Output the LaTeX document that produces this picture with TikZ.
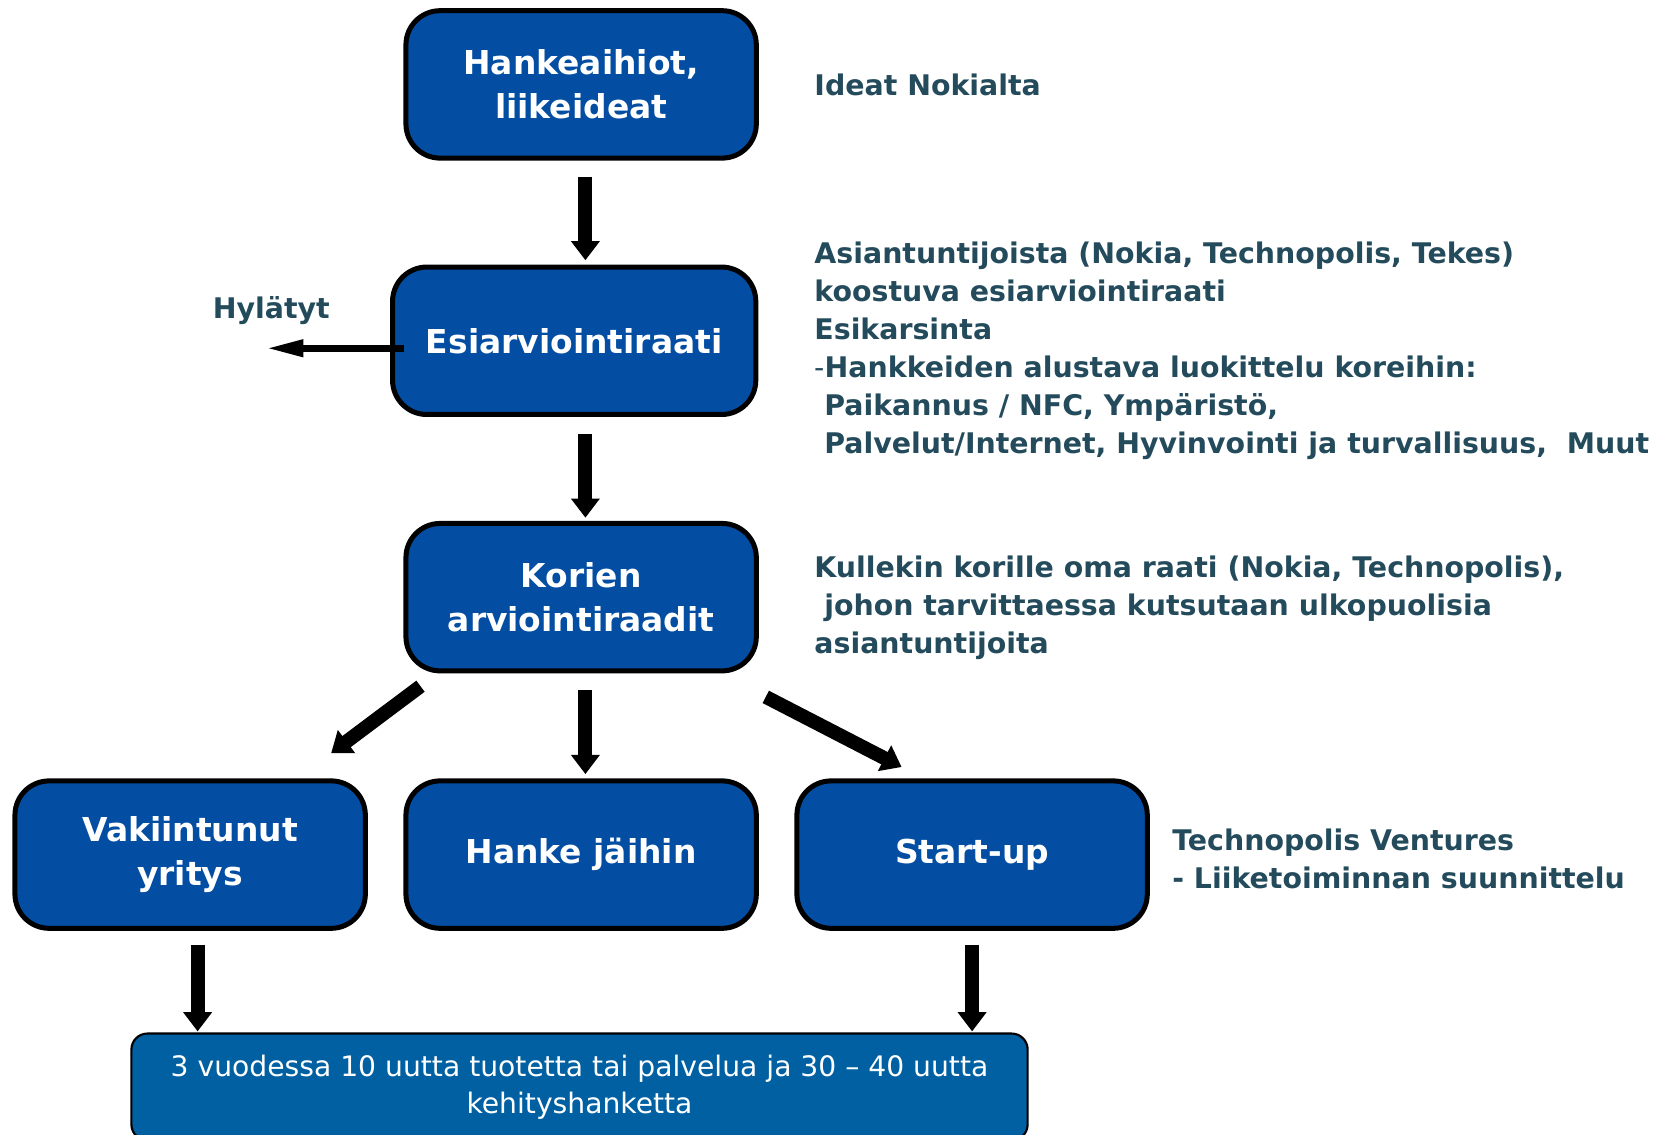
\documentclass[tikz,border=0pt]{standalone}
\usepackage{fontspec}
\setmainfont{DejaVu Sans}
\usetikzlibrary{arrows.meta}
\definecolor{boxblue}{HTML}{034EA2}
\definecolor{resblue}{HTML}{0060A2}
\definecolor{notecol}{HTML}{244B5C}
\begin{document}
\begin{tikzpicture}[x=0.5pt,y=-0.5pt,
  stage/.style={draw=black,line width=2.35pt,fill=boxblue,rounded corners=16pt,
    minimum width=164pt,minimum height=69pt,align=center,text=white,
    font=\fontsize{15.4}{20.5}\selectfont\bfseries},
  note/.style={anchor=north west,inner sep=0pt,align=left,text=notecol,
    font=\fontsize{13.3}{17.8}\selectfont\bfseries},
  bigarrow/.style={line width=6.5pt,-{Triangle[width=13pt,length=9pt]}},
  thinarrow/.style={line width=3.2pt,-{Triangle[width=7.5pt,length=17.5pt]}}]
\useasboundingbox (0,0) rectangle (1568,1061.6);
% boxes
\node[stage] (ideas) at (544,79) {Hankeaihiot,\\liikeideat};
\node[stage,minimum width=170pt] (pre) at (537.5,319) {Esiarviointiraati};
\node[stage] (baskets) at (544,559) {Korien\\arviointiraadit};
\node[stage] (firm) at (178,800) {Vakiintunut\\yritys};
\node[stage] (frozen) at (544,800) {Hanke jäihin};
\node[stage] (startup) at (910,800) {Start-up};
\node[draw=black,line width=1pt,fill=resblue,rounded corners=7.5pt,
  minimum width=419.5pt,minimum height=50pt,align=center,text=white,
  font=\fontsize{13.2}{17.5}\selectfont] (result) at (542.5,1017.5)
  {3 vuodessa 10 uutta tuotetta tai palvelua ja 30 – 40 uutta\\kehityshanketta};
% notes
\node[note,anchor=base west] (n1) at (762,89) {Ideat Nokialta};
\node[note] (n2) at (762,226.3) {Asiantuntijoista (Nokia, Technopolis, Tekes)\\
  koostuva esiarviointiraati\\
  Esikarsinta\\
  {\mdseries -}Hankkeiden alustava luokittelu koreihin:\\
  \hspace*{4.6pt}Paikannus / NFC, Ympäristö,\\
  \hspace*{4.6pt}Palvelut/Internet, Hyvinvointi ja turvallisuus,\ \ Muut};
\node[note] (n3) at (762,520.3) {Kullekin korille oma raati (Nokia, Technopolis),\\
  \hspace*{4.6pt}johon tarvittaessa kutsutaan ulkopuolisia\\
  asiantuntijoita};
\node[note] (n4) at (1097,775.3) {Technopolis Ventures\\- Liiketoiminnan suunnittelu};
\node[note,anchor=center] (rej) at (254,291) {Hylätyt};
% arrows
\coordinate (rejtip) at (249,326);
\coordinate (ltip) at (310,705);
\coordinate (rtip) at (844,718);
\draw[bigarrow,shorten <=7.5pt,shorten >=2pt] ([xshift=2pt]ideas.south) -- ([xshift=2pt]ideas.south |- pre.north);
\draw[bigarrow,shorten <=8pt,shorten >=1.5pt] ([xshift=5.25pt]pre.south) -- ([xshift=5.25pt]pre.south |- baskets.north);
\draw[thinarrow] ([xshift=6.75pt,yshift=-3.5pt]pre.west) -- (rejtip);
\draw[bigarrow] ([xshift=8pt,yshift=-6pt]baskets.south west) -- (ltip);
\draw[bigarrow,shorten <=8pt,shorten >=2pt] ([xshift=2pt]baskets.south) -- ([xshift=2pt]baskets.south |- frozen.north);
\draw[bigarrow] ([xshift=3.25pt,yshift=-11pt]baskets.south east) -- (rtip);
\draw[bigarrow,shorten <=6.5pt,shorten >=0.5pt] ([xshift=3.5pt]firm.south) -- ([xshift=3.5pt]firm.south |- result.north);
\draw[bigarrow,shorten <=6.5pt,shorten >=0.5pt] (startup.south) -- (startup.south |- result.north);
\end{tikzpicture}
\end{document}
